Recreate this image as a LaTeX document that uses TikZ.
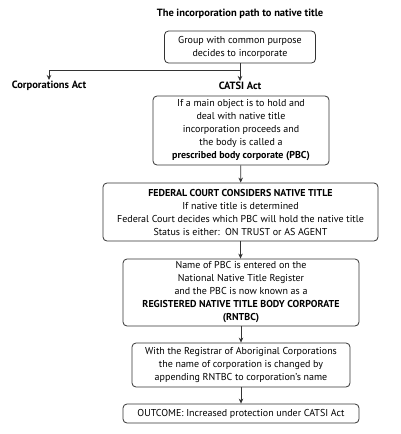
\documentclass[tikz,border=0pt]{standalone}
\usepackage{fontspec}
\setmainfont{PT Sans}
\usetikzlibrary{arrows.meta}
\usetikzlibrary{positioning}
\tikzset{stage/.style = {draw = black!80, rounded corners = 4, align = center,
                         inner sep = 0, line width = 0.8,
                         font = \fontsize{10}{13}\selectfont}}
\tikzset{act/.style = {font = \fontsize{10.5}{13}\selectfont\bfseries, inner sep = 1}}
\tikzset{flow/.style = {draw = black!80, line width = 0.8,
                        -{Stealth[length = 5, width = 4.5]}}}

\begin{document}
\begin{tikzpicture}[x=1pt, y=-1pt]
    \useasboundingbox (0, 0) rectangle (400, 434);

    \node [act] (title) at (240, 14) {The incorporation path to native title};

    \node [stage, minimum width = 151, minimum height = 32] (group) at (240, 47)
      {Group with common purpose\\decides to incorporate};

    \node [act] (corp) at (49, 86) {Corporations Act};
    \node [act] (catsi) at (240, 86) {CATSI Act};

    \node [stage, minimum width = 176, minimum height = 69] (pbc) at (241, 130.5)
      {If a main object is to hold and\\deal with native title\\incorporation proceeds and\\
       the body is called a\\\textbf{prescribed body corporate (PBC)}};

    \node [stage, minimum width = 275, minimum height = 58] (court) at (240.5, 212)
      {\textbf{FEDERAL COURT CONSIDERS NATIVE TITLE}\\If native title is determined\\
       Federal Court decides which PBC will hold the native title\\
       Status is either:\ \ ON TRUST or AS AGENT};

    \node [stage, minimum width = 236, minimum height = 67] (register) at (241, 292.5)
      {Name of PBC is entered on the\\National Native Title Register\\
       and the PBC is now known as a\\
       \textbf{REGISTERED NATIVE TITLE BODY CORPORATE}\\\textbf{(RNTBC)}};

    \node [stage, minimum width = 218, minimum height = 44] (rename) at (241, 365)
      {With the Registrar of Aboriginal Corporations\\
       the name of corporation is changed by\\
       appending RNTBC to corporation's name};

    \node [stage, minimum width = 236, minimum height = 19] (outcome) at (241, 413.5)
      {OUTCOME: Increased protection under CATSI Act};

    % branch under the first box
    \coordinate (split) at (group.south |- 0, 70);
    \draw [flow] (group.south) -- (catsi.north);
    \draw [flow] (split) -| (corp.north);

    \draw [flow] (pbc) -- (court);
    \draw [flow] (court) -- (court.south |- register.north);
    \draw [flow] (register) -- (rename);
    \draw [flow] (rename) -- (outcome);
\end{tikzpicture}
\end{document}
